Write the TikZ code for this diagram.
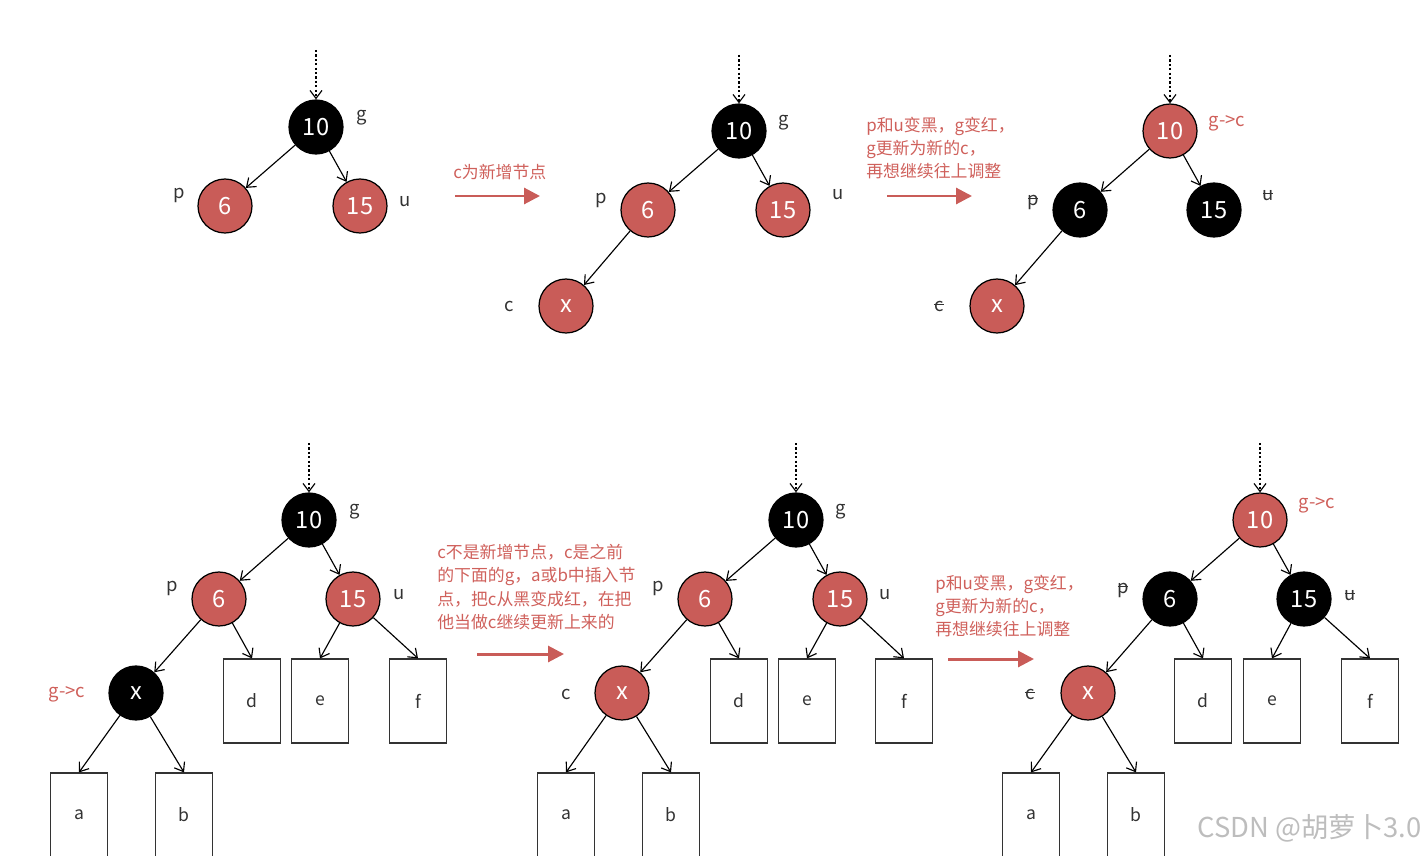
\documentclass[tikz,border=0pt]{standalone}
\usepackage{fontspec}
\setmainfont{Noto Sans CJK SC}
\usetikzlibrary{arrows.meta,positioning}
\definecolor{nodered}{HTML}{C95C58}
\definecolor{notered}{HTML}{CF605B}
\definecolor{inkgrey}{HTML}{333333}
\definecolor{markgrey}{HTML}{BDBDBD}
\newcommand{\struck}[1]{\ooalign{#1\cr\hidewidth\rule[0.62ex]{0.55em}{0.5pt}\hidewidth}}
\tikzset{
  rbnode/.style  = {circle, draw=black, line width=0.7pt, minimum size=1.08cm, inner sep=0pt,
                    text=white, font=\fontsize{13.5}{15}\selectfont},
  rednode/.style = {rbnode, fill=nodered},
  blknode/.style = {rbnode, fill=black},
  leafbox/.style = {draw=inkgrey, line width=0.7pt, minimum width=1.14cm, minimum height=1.68cm,
                    inner sep=0pt, text=inkgrey, font=\fontsize{10}{12}\selectfont},
  tag/.style     = {text=inkgrey, inner sep=1pt, font=\fontsize{10.5}{12}\selectfont},
  redtag/.style  = {text=notered, inner sep=1pt, font=\fontsize{10.5}{12}\selectfont},
  note/.style    = {text=notered, align=left, anchor=west, inner sep=0pt,
                    font=\fontsize{9.6}{13.2}\selectfont},
  edge/.style    = {-{Straight Barb[length=1.6mm,width=2.4mm]}, draw=black, line width=0.65pt},
  entry/.style   = {edge, dash pattern=on 1.3pt off 1.2pt},
  flowred/.style = {-{Triangle[length=3.2mm,width=3.2mm]}, draw=nodered, line width=1.7pt},
}
\begin{document}
\begin{tikzpicture}[x=0.02cm,y=-0.02cm]
  \useasboundingbox (0,0) rectangle (1426,855);

  % ---- top row, tree 1
  \node[blknode] (g1) at (316,127) {10};
  \node[rednode] (p1) at (225,206) {6};
  \node[rednode] (u1) at (360,206) {15};
  \node[tag] (gl1) at (362,118) {g};
  \node[tag] (pl1) at (179,195) {p};
  \node[tag] (ul1) at (405,202) {u};
  \coordinate (in1) at (316,50);
  \draw[entry] (in1) -- (g1);
  \draw[edge] (g1) -- (p1);
  \draw[edge] (g1) -- (u1);

  \coordinate (a1s) at (455,196);
  \coordinate (a1e) at (540,196);
  \draw[flowred] (a1s) -- (a1e);
  \node[note] (n1) at (453,172) {c为新增节点};

  % ---- top row, tree 2
  \node[blknode] (g2) at (739,131) {10};
  \node[rednode] (p2) at (648,210) {6};
  \node[rednode] (u2) at (783,210) {15};
  \node[rednode] (c2) at (566,306) {x};
  \node[tag] (gl2) at (784,123) {g};
  \node[tag] (pl2) at (601,200) {p};
  \node[tag] (ul2) at (838,195) {u};
  \node[tag] (cl2) at (509,306) {c};
  \coordinate (in2) at (739,55);
  \draw[entry] (in2) -- (g2);
  \draw[edge] (g2) -- (p2);
  \draw[edge] (g2) -- (u2);
  \draw[edge] (p2) -- (c2);

  \coordinate (a2s) at (887,196);
  \coordinate (a2e) at (972,196);
  \draw[flowred] (a2s) -- (a2e);
  \node[note] (n2) at (866,148) {p和u变黑，g变红，\\g更新为新的c，\\再想继续往上调整};

  % ---- top row, tree 3
  \node[rednode] (g3) at (1170,131) {10};
  \node[blknode] (p3) at (1080,210) {6};
  \node[blknode] (u3) at (1214,210) {15};
  \node[rednode] (c3) at (997,306) {x};
  \node[redtag] (gl3) at (1227,123) {g->c};
  \node[tag] (pl3) at (1033,200) {\struck{p}};
  \node[tag] (ul3) at (1268,195) {\struck{u}};
  \node[tag] (cl3) at (939,306) {\struck{c}};
  \coordinate (in3) at (1170,55);
  \draw[entry] (in3) -- (g3);
  \draw[edge] (g3) -- (p3);
  \draw[edge] (g3) -- (u3);
  \draw[edge] (p3) -- (c3);

  % ---- bottom row, tree 4
  \node[blknode] (g4) at (309,520) {10};
  \node[rednode] (p4) at (219,599) {6};
  \node[rednode] (u4) at (353,599) {15};
  \node[blknode] (c4) at (136,693) {x};
  \node[leafbox] (d4) at (252,701) {d};
  \node[leafbox] (e4) at (320,701) {e};
  \node[leafbox] (f4) at (418,701) {f};
  \node[leafbox] (a4) at (79,815) {a};
  \node[leafbox] (b4) at (184,815) {b};
  \node[tag] (gl4) at (355,512) {g};
  \node[tag] (pl4) at (172,588) {p};
  \node[tag] (ul4) at (399,595) {u};
  \node[redtag] (cl4) at (67,694) {g->c};
  \coordinate (in4) at (309,443);
  \draw[entry] (in4) -- (g4);
  \draw[edge] (g4) -- (p4);
  \draw[edge] (g4) -- (u4);
  \draw[edge] (p4) -- (c4);
  \draw[edge] (p4) -- (d4.north);
  \draw[edge] (u4) -- (e4.north);
  \draw[edge] (u4) -- (f4.north);
  \draw[edge] (c4) -- (a4.north);
  \draw[edge] (c4) -- (b4.north);

  \coordinate (a4s) at (477,654);
  \coordinate (a4e) at (564,654);
  \draw[flowred] (a4s) -- (a4e);
  \node[note] (n4) at (437,587) {c不是新增节点，c是之前\\的下面的g，a或b中插入节\\点，把c从黑变成红，在把\\他当做c继续更新上来的};

  % ---- bottom row, tree 5
  \node[blknode] (g5) at (796,520) {10};
  \node[rednode] (p5) at (705,599) {6};
  \node[rednode] (u5) at (840,599) {15};
  \node[rednode] (c5) at (622,693) {x};
  \node[leafbox] (d5) at (739,701) {d};
  \node[leafbox] (e5) at (807,701) {e};
  \node[leafbox] (f5) at (904,701) {f};
  \node[leafbox] (a5) at (566,815) {a};
  \node[leafbox] (b5) at (671,815) {b};
  \node[tag] (gl5) at (841,512) {g};
  \node[tag] (pl5) at (658,588) {p};
  \node[tag] (ul5) at (885,595) {u};
  \node[tag] (cl5) at (566,694) {c};
  \coordinate (in5) at (796,443);
  \draw[entry] (in5) -- (g5);
  \draw[edge] (g5) -- (p5);
  \draw[edge] (g5) -- (u5);
  \draw[edge] (p5) -- (c5);
  \draw[edge] (p5) -- (d5.north);
  \draw[edge] (u5) -- (e5.north);
  \draw[edge] (u5) -- (f5.north);
  \draw[edge] (c5) -- (a5.north);
  \draw[edge] (c5) -- (b5.north);

  \coordinate (a5s) at (948,659);
  \coordinate (a5e) at (1034,659);
  \draw[flowred] (a5s) -- (a5e);
  \node[note] (n5) at (935,606) {p和u变黑，g变红，\\g更新为新的c，\\再想继续往上调整};

  % ---- bottom row, tree 6
  \node[rednode] (g6) at (1260,520) {10};
  \node[blknode] (p6) at (1170,599) {6};
  \node[blknode] (u6) at (1304,599) {15};
  \node[rednode] (c6) at (1088,693) {x};
  \node[leafbox] (d6) at (1203,701) {d};
  \node[leafbox] (e6) at (1272,701) {e};
  \node[leafbox] (f6) at (1370,701) {f};
  \node[leafbox] (a6) at (1031,815) {a};
  \node[leafbox] (b6) at (1136,815) {b};
  \node[redtag] (gl6) at (1317,505) {g->c};
  \node[tag] (pl6) at (1123,588) {\struck{p}};
  \node[tag] (ul6) at (1350,595) {\struck{u}};
  \node[tag] (cl6) at (1030,694) {\struck{c}};
  \coordinate (in6) at (1260,443);
  \draw[entry] (in6) -- (g6);
  \draw[edge] (g6) -- (p6);
  \draw[edge] (g6) -- (u6);
  \draw[edge] (p6) -- (c6);
  \draw[edge] (p6) -- (d6.north);
  \draw[edge] (u6) -- (e6.north);
  \draw[edge] (u6) -- (f6.north);
  \draw[edge] (c6) -- (a6.north);
  \draw[edge] (c6) -- (b6.north);

  \node[text=markgrey, anchor=east, inner sep=0pt, font=\fontsize{15.6}{17}\selectfont] (mark) at (1422,828) {CSDN @胡萝卜3.0};
\end{tikzpicture}
\end{document}
